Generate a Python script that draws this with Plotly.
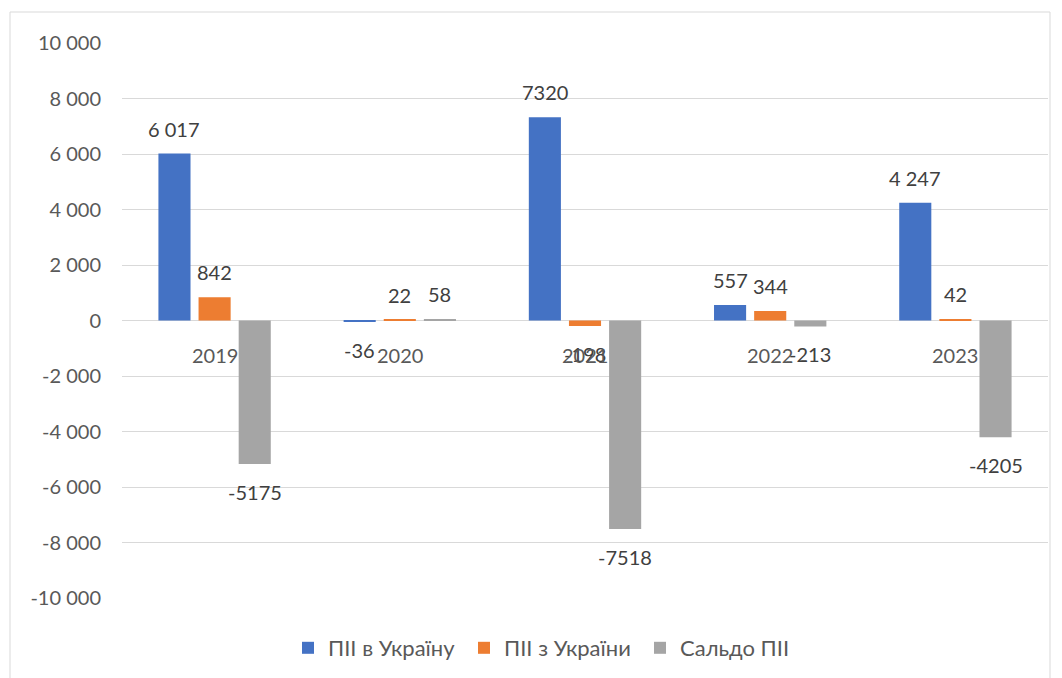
import plotly.graph_objects as go

years = ["2019", "2020", "2021", "2022", "2023"]
fdi_in = [6017, -36, 7320, 557, 4247]
fdi_out = [842, 22, -198, 344, 42]
fdi_balance = [-5175, 58, -7518, -213, -4205]
labels_in = ["6 017", "-36", "7320", "557", "4 247"]
labels_out = ["842", "22", "-198", "344", "42"]
labels_balance = ["-5175", "58", "-7518", "-213", "-4205"]
series_names = ["ПІІ в Україну", "ПІІ з України", "Сальдо ПІІ"]
tick_vals = [10000, 8000, 6000, 4000, 2000, 0, -2000, -4000, -6000, -8000, -10000]
tick_text = ["10 000", "8 000", "6 000", "4 000", "2 000", "0", "-2 000", "-4 000", "-6 000", "-8 000", "-10 000"]

colors = ["#4472C4", "#ED7D31", "#A5A5A5"]
FONT = "Lato, 'Open Sans', sans-serif"

W, H = 1054, 670
ML, MR, MT, MB = 114, 14, 35, 80
BARGAP = 0.35
plot_w = W - ML - MR
slot_px = plot_w / len(years) * (1 - BARGAP) / 3

fig = go.Figure()
series_vals = [fdi_in, fdi_out, fdi_balance]
series_labs = [labels_in, labels_out, labels_balance]
for name, vals, col in zip(series_names, series_vals, colors):
    fig.add_trace(go.Bar(x=years, y=vals, name=name, marker_color=col, marker_line_width=0))

# value labels (placed above/below bar ends, through data coordinates)
for k, (vals, labs) in enumerate(zip(series_vals, series_labs)):
    for i, (v, t) in enumerate(zip(vals, labs)):
        fig.add_annotation(x=i, y=v, xref="x", yref="y", text=t, showarrow=False,
                           xshift=(k - 1) * slot_px, yanchor="middle",
                           yshift=25 if v >= 0 else -28,
                           font=dict(family=FONT, size=20, color="#404040"))

# category labels next to the zero line
for i, yr in enumerate(years):
    fig.add_annotation(x=i, y=0, xref="x", yref="y", text=yr, showarrow=False,
                       yanchor="top", yshift=-20,
                       font=dict(family=FONT, size=20, color="#595959"))

# chart border
fig.add_shape(type="rect", xref="paper", yref="paper",
              x0=(10 - 122) / 926, x1=(1050 - 122) / 926,
              y0=(598 - 700) / 555, y1=(598 - 12) / 555,
              line=dict(color="#D9D9D9", width=1), fillcolor="rgba(0,0,0,0)", layer="below")

fig.update_layout(
    width=W, height=H,
    margin=dict(l=ML, r=MR, t=MT, b=MB, autoexpand=False),
    paper_bgcolor="white", plot_bgcolor="white",
    barmode="group", bargap=BARGAP, bargroupgap=0.2,
    font=dict(family=FONT, size=20, color="#595959"),
    legend=dict(orientation="h", x=(307 - 19 - 122) / 926, xanchor="left",
                y=(598 - 648) / 555, yanchor="middle",
                font=dict(family=FONT, size=22, color="#595959"),
                itemwidth=30, entrywidth=131, traceorder="normal"),
    xaxis=dict(type="category", range=[-0.5, 4.5], showticklabels=False, showgrid=False,
               zeroline=False, showline=False),
    yaxis=dict(range=[-10000, 10000], tickvals=tick_vals, ticktext=tick_text,
               showgrid=True, gridcolor="#D9D9D9", gridwidth=1,
               zeroline=True, zerolinecolor="#D9D9D9", zerolinewidth=1,
               showline=False, ticklabelstandoff=20,
               tickfont=dict(family=FONT, size=20, color="#595959")),
)

fig.write_html("out.html")
